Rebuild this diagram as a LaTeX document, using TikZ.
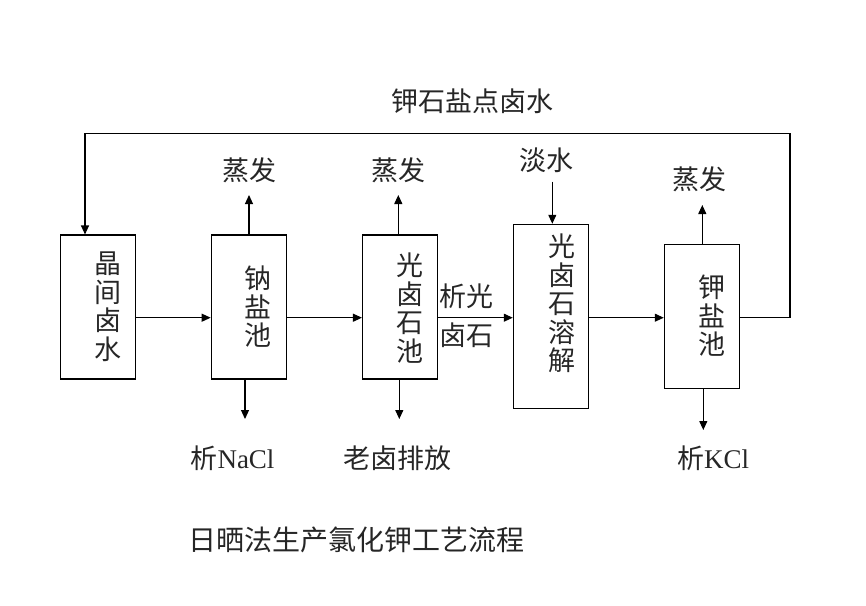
\documentclass[tikz,border=0pt]{standalone}
\usepackage{fontspec}
\setmainfont{Liberation Serif}
\newfontfamily\cjk{Noto Sans CJK SC}
\usetikzlibrary{arrows.meta}

\tikzset{
	pool/.style={draw, line width=1.1pt, minimum width=75pt, inner sep=0pt},
	vtxt/.style={align=center, text=black!85, inner sep=0pt, font=\cjk\fontsize{27}{28.5}\selectfont},
	lbl/.style={align=center, text=black!85, inner sep=0pt, font=\cjk\fontsize{27}{30}\selectfont},
	flow/.style={line width=1.1pt, -{Triangle[length=9pt,width=8pt]}}
}

\begin{document}
\begin{tikzpicture}[x=1pt, y=-1pt]
			\useasboundingbox (0,0) rectangle (866,605);
			\node[pool, minimum height=144pt] (b1) at (98,307) {};
			\node[pool, minimum height=144pt] (b2) at (248.7,307) {};
			\node[pool, minimum height=144pt] (b3) at (400,307) {};
			\node[pool, minimum height=184pt] (b4) at (550.8,316.3) {};
			\node[pool, minimum height=144pt] (b5) at (701.8,316.3) {};
			\node[vtxt] (t1) at (108,306.5) {晶\\间\\卤\\水};
			\node[vtxt] (t2) at (258,306.7) {钠\\盐\\池};
			\node[vtxt] (t3) at (410,308) {光\\卤\\石\\池};
			\node[vtxt] (t4) at (561.7,303.3) {光\\卤\\石\\溶\\解};
			\node[vtxt] (t5) at (711.7,316) {钾\\盐\\池};
			\node[lbl] (loopl) at (472.5,101.7) {钾石盐点卤水};
			\node[lbl] (evap2) at (249,170.7) {蒸发};
			\node[lbl] (evap3) at (398,170.7) {蒸发};
			\node[lbl] (evap5) at (699,179) {蒸发};
			\node[lbl] (fresh) at (546.7,160) {淡水};
			\node[lbl, font=\cjk\fontsize{27}{39}\selectfont] (carn) at (466.7,315.5) {析光\\卤石};
			\node[lbl] (nacl) at (232.5,458) {析\rmfamily NaCl};
			\node[lbl] (old) at (397.5,458) {老卤排放};
			\node[lbl] (kcl) at (713,458) {析\rmfamily KCl};
			\node[lbl, font=\cjk\fontsize{28}{30}\selectfont] (title) at (356.5,540) {日晒法生产氯化钾工艺流程};
			\coordinate (lvl) at (0,317.7);
			\coordinate (lpR) at (790,133.3);
			\coordinate (lpL) at (85,133.3);
			\coordinate (up2) at (249,195);
			\coordinate (up3) at (398.3,195);
			\coordinate (up5) at (702.3,205);
			\coordinate (dn2) at (245,419);
			\coordinate (dn3) at (399.3,419);
			\coordinate (dn5) at (703.3,430);
			\coordinate (dw) at (552.3,181.7);
			\draw[flow] (b1.east |- lvl) -- (b2.west |- lvl);
			\draw[flow] (b2.east |- lvl) -- (b3.west |- lvl);
			\draw[flow] (b3.east |- lvl) -- (b4.west |- lvl);
			\draw[flow] (b4.east |- lvl) -- (b5.west |- lvl);
			\draw[flow] (b2.north -| up2) -- (up2);
			\draw[flow] (b3.north -| up3) -- (up3);
			\draw[flow] (b5.north -| up5) -- (up5);
			\draw[flow] (b2.south -| dn2) -- (dn2);
			\draw[flow] (b3.south -| dn3) -- (dn3);
			\draw[flow] (b5.south -| dn5) -- (dn5);
			\draw[flow] (dw) -- (dw |- b4.north);
			\draw[flow] (b5.east |- lvl) -| (lpR) -- (lpL) -- (lpL |- b1.north);
		\end{tikzpicture}
\end{document}
